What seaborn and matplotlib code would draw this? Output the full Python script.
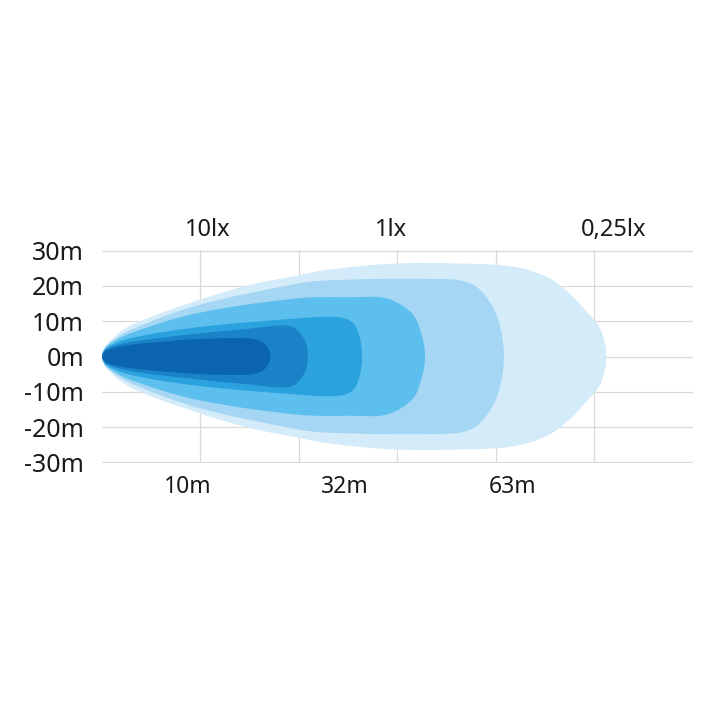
import numpy as np
import matplotlib
matplotlib.use("Agg")
import matplotlib.pyplot as plt
from matplotlib.path import Path
from matplotlib.patches import PathPatch
import seaborn as sns

# beam contours, outer -> inner: distance along beam (grid units) and half width (m)
x_l6 = [0, 0.5, 2.9, 9.7, 15.0, 19.9, 22.4, 29.2, 36.0, 41.7, 45.2, 47.4, 49.3, 50.6, 51.2]
w_l6 = [0, 3.5, 8.8, 15.9, 20.3, 23.0, 24.4, 26.3, 26.4, 25.5, 22.5, 18.0, 12.4, 7.8, 0]
x_l5 = [0, 0.5, 2.9, 9.7, 19.9, 22.4, 28.2, 33.3, 36.3, 38.1, 39.7, 40.5, 40.8]
w_l5 = [0, 3.2, 7.5, 14.5, 20.7, 21.5, 22.0, 22.0, 21.6, 19.6, 13.9, 7.5, 0]
x_l4 = [0, 0.5, 2.9, 9.7, 19.9, 25.2, 29.0, 31.6, 32.6, 32.8]
w_l4 = [0, 2.9, 6.6, 12.3, 16.5, 16.8, 16.4, 11.8, 4.5, 0]
x_l3 = [0, 0.5, 2.9, 9.7, 19.9, 23.9, 25.5, 26.2, 26.4]
w_l3 = [0, 2.5, 5.2, 8.3, 10.8, 11.2, 9.5, 5.0, 0]
x_l2 = [0, 0.5, 2.9, 9.7, 15.0, 18.1, 19.4, 20.1, 20.7, 20.9]
w_l2 = [0, 2.2, 4.1, 6.5, 7.9, 8.8, 8.3, 6.6, 3.8, 0]
x_l1 = [0, 0.5, 2.6, 9.4, 14.5, 15.9, 16.7, 17.1]
w_l1 = [0, 1.8, 3.2, 4.9, 5.2, 4.6, 3.0, 0]

colors = ["#d4ebf9", "#a5d6f4", "#5cbfee", "#2ba1de", "#1a83c8", "#0a64ae"]

y_ticks = [30, 20, 10, 0, -10, -20, -30]
y_labels = ["30m", "20m", "10m", "0m", "-10m", "-20m", "-30m"]
lux_labels = ["10lx", "1lx", "0,25lx"]
dist_labels = ["10m", "32m", "63m"]

# drawing scale of one data unit in pixels (x, y), used only for smoothing
SX, SY = 9.85, 3.55


def beam_path(xs, ws):
    # closed outline nose -> top -> tip -> bottom, smoothed with chord-length hermite beziers
    top = list(zip(xs, ws))
    bottom = [(x, -w) for x, w in zip(xs[1:-1], ws[1:-1])][::-1]
    pts = np.array(top + bottom, dtype=float)
    n = len(pts)
    scaled = pts * [SX, SY]
    d = np.linalg.norm(np.roll(scaled, -1, axis=0) - scaled, axis=1)
    tang = np.empty_like(pts)
    for i in range(n):
        tang[i] = (pts[(i + 1) % n] - pts[i - 1]) / (d[i - 1] + d[i])
    verts = [pts[0]]
    codes = [Path.MOVETO]
    for i in range(n):
        j = (i + 1) % n
        verts += [pts[i] + tang[i] * d[i] / 3, pts[j] - tang[j] * d[i] / 3, pts[j]]
        codes += [Path.CURVE4] * 3
    return Path(verts, codes)


sns.set_theme(style="white")
plt.rcParams["font.family"] = ["Noto Sans", "DejaVu Sans"]

fig = plt.figure(figsize=(7.2, 7.2), dpi=100)
ax = fig.add_axes([102 / 720, 1 - 463 / 720, 591 / 720, 213 / 720])

layers = [(x_l6, w_l6), (x_l5, w_l5), (x_l4, w_l4), (x_l3, w_l3), (x_l2, w_l2), (x_l1, w_l1)]
for k, (xs, ws) in enumerate(layers):
    ax.add_patch(PathPatch(beam_path(xs, ws), facecolor=colors[k], edgecolor="none", zorder=2 + k))

ax.set_xlim(0, 60)
ax.set_ylim(-30.2, 30.2)
ax.set_xticks([10, 20, 30, 40, 50])
ax.set_xticklabels([])
ax.set_yticks(y_ticks)
ax.set_yticklabels(y_labels)
ax.tick_params(axis="both", length=0)
ax.tick_params(axis="y", pad=13, labelsize=18, labelcolor="#1a1a1a")
ax.grid(True, color="#d9d9d9", linewidth=0.9, zorder=0)
ax.set_axisbelow(True)
sns.despine(ax=ax, left=True, bottom=True)

for lab, xp in zip(lux_labels, [10.7, 29.3, 51.9]):
    ax.text(xp, 36.0, lab, ha="center", va="center", fontsize=17, color="#1a1a1a")
for lab, xp in zip(dist_labels, [8.7, 24.7, 41.7]):
    ax.text(xp, -37.0, lab, ha="center", va="center", fontsize=16.5, color="#1a1a1a")

fig.savefig("out.png", dpi=100, facecolor="white")
